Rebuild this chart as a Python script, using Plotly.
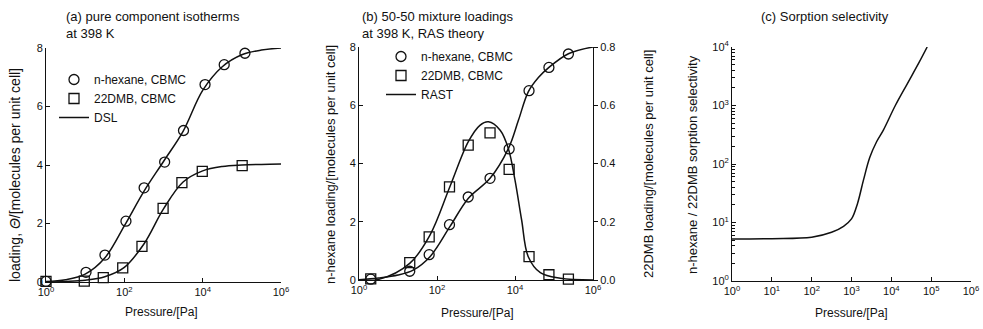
import plotly.graph_objects as go

W, H = 983, 329

# ---------- panel (a): pure component isotherms ----------
a_hex_p = [1.0, 10.5, 32, 110, 320, 1070, 3240, 11500, 35500, 120000]
a_hex_q = [0.02, 0.33, 0.92, 2.08, 3.22, 4.1, 5.18, 6.75, 7.43, 7.82]
a_dmb_p = [1.0, 9.5, 29, 91, 282, 977, 2950, 9770, 102000]
a_dmb_q = [0.02, 0.03, 0.15, 0.48, 1.22, 2.52, 3.4, 3.78, 3.98]
a_dsl_hex_logp = [0, 0.5, 1.0, 1.5, 2.0, 2.5, 3.0, 3.5, 4.0, 4.5, 5.0, 5.5, 6.0]
a_dsl_hex_q = [0.02, 0.08, 0.27, 0.82, 1.92, 3.1, 4.12, 5.15, 6.55, 7.36, 7.77, 7.93, 8.0]
a_dsl_dmb_logp = [0, 0.5, 1.0, 1.5, 2.0, 2.5, 3.0, 3.5, 4.0, 4.5, 5.0, 5.5, 6.0]
a_dsl_dmb_q = [0.0, 0.02, 0.06, 0.18, 0.5, 1.3, 2.5, 3.42, 3.8, 3.95, 4.0, 4.02, 4.03]

# ---------- panel (b): 50-50 mixture loadings ----------
b_p = [2, 20, 63, 209, 631, 2290, 7080, 22900, 74100, 234000]
b_hex_q = [0.03, 0.3, 0.87, 1.9, 2.85, 3.49, 4.5, 6.5, 7.3, 7.76]
b_dmb_q = [0.004, 0.06, 0.148, 0.32, 0.463, 0.505, 0.38, 0.08, 0.018, 0.003]
b_rast_hex_logp = [0, 0.5, 1.0, 1.39, 1.82, 2.33, 2.8, 3.36, 3.83, 4.09, 4.34, 4.6, 4.87, 5.37, 6.0]
b_rast_hex_q = [0.01, 0.07, 0.17, 0.34, 0.8, 1.83, 2.8, 3.49, 4.51, 5.49, 6.46, 6.95, 7.3, 7.77, 8.0]
b_rast_dmb_logp = [0, 0.53, 1.3, 1.82, 2.33, 2.8, 3.1, 3.32, 3.62, 3.83, 4.0, 4.17, 4.34, 4.65, 5.16, 6.0]
b_rast_dmb_q = [0.0, 0.003, 0.057, 0.154, 0.32, 0.474, 0.531, 0.543, 0.514, 0.451, 0.343, 0.206, 0.08, 0.025, 0.006, 0.0]

# ---------- panel (c): sorption selectivity ----------
c_logp = [0, 1.0, 2.0, 2.5, 2.8, 3.0, 3.15, 3.3, 3.46, 3.63, 3.8, 4.1, 4.4, 4.7, 4.9]
c_sel = [5.2, 5.3, 5.6, 6.8, 8.6, 11.5, 21, 53, 130, 240, 380, 1000, 2350, 5500, 10000]

dec_vals = [1, 10, 100, 1e3, 1e4, 1e5, 1e6]
dec_text = ["10<sup>%d</sup>" % i for i in range(7)]

FONT = "Arial, Liberation Sans, sans-serif"
BLACK = "#111111"
TICK_SIZE = 11
TITLE_SIZE = 13
LEGEND_SIZE = 12

fig = go.Figure()

marker_circle = dict(symbol="circle-open", size=10, color=BLACK, line=dict(width=1.3, color=BLACK))
marker_square = dict(symbol="square-open", size=10, color=BLACK, line=dict(width=1.3, color=BLACK))
line_style = dict(color=BLACK, width=1.5)

# panel a traces
fig.add_trace(go.Scatter(x=a_hex_p, y=a_hex_q, mode="markers", marker=marker_circle,
                         name="n-hexane, CBMC", xaxis="x", yaxis="y", legend="legend", cliponaxis=False))
fig.add_trace(go.Scatter(x=a_dmb_p, y=a_dmb_q, mode="markers", marker=marker_square,
                         name="22DMB, CBMC", xaxis="x", yaxis="y", legend="legend", cliponaxis=False))
fig.add_trace(go.Scatter(x=[10 ** v for v in a_dsl_hex_logp], y=a_dsl_hex_q, mode="lines",
                         line=dict(shape="spline", **line_style), name="DSL",
                         xaxis="x", yaxis="y", legend="legend"))
fig.add_trace(go.Scatter(x=[10 ** v for v in a_dsl_dmb_logp], y=a_dsl_dmb_q, mode="lines",
                         line=dict(shape="spline", **line_style), name="DSL", showlegend=False,
                         xaxis="x", yaxis="y"))

# panel b traces
fig.add_trace(go.Scatter(x=b_p, y=b_hex_q, mode="markers", marker=marker_circle,
                         name="n-hexane, CBMC", xaxis="x2", yaxis="y2", legend="legend2", cliponaxis=False))
fig.add_trace(go.Scatter(x=b_p, y=b_dmb_q, mode="markers", marker=marker_square,
                         name="22DMB, CBMC", xaxis="x2", yaxis="y4", legend="legend2", cliponaxis=False))
fig.add_trace(go.Scatter(x=[10 ** v for v in b_rast_hex_logp], y=b_rast_hex_q, mode="lines",
                         line=dict(shape="spline", **line_style), name="RAST",
                         xaxis="x2", yaxis="y2", legend="legend2"))
fig.add_trace(go.Scatter(x=[10 ** v for v in b_rast_dmb_logp], y=b_rast_dmb_q, mode="lines",
                         line=dict(shape="spline", **line_style), name="RAST", showlegend=False,
                         xaxis="x2", yaxis="y4"))

# panel c trace
fig.add_trace(go.Scatter(x=[10 ** v for v in c_logp], y=c_sel, mode="lines",
                         line=dict(shape="spline", **line_style), showlegend=False,
                         xaxis="x3", yaxis="y3"))

def px_x(a, b):
    return [a / W, b / W]

def px_y(top, bottom):
    return [1 - bottom / H, 1 - top / H]

axis_common = dict(showline=True, linecolor=BLACK, linewidth=1, ticks="inside", ticklen=4,
                   tickcolor=BLACK, tickwidth=1, showgrid=False, zeroline=False, automargin=False,
                   tickfont=dict(family=FONT, size=TICK_SIZE, color=BLACK))

fig.update_layout(
    width=W, height=H,
    margin=dict(l=0, r=0, t=0, b=0, pad=0, autoexpand=False),
    paper_bgcolor="white", plot_bgcolor="white",
    font=dict(family=FONT, size=TICK_SIZE, color=BLACK),
    xaxis=dict(domain=px_x(46, 281), type="log", range=[0, 6], anchor="y",
               tickvals=[1, 100, 1e4, 1e6], ticktext=[dec_text[0], dec_text[2], dec_text[4], dec_text[6]],
               **axis_common),
    yaxis=dict(domain=px_y(48, 282), range=[0, 8], anchor="x", tickvals=[0, 2, 4, 6, 8], **axis_common),
    xaxis2=dict(domain=px_x(359, 593), type="log", range=[0, 6], anchor="y2",
                tickvals=[1, 100, 1e4, 1e6], ticktext=[dec_text[0], dec_text[2], dec_text[4], dec_text[6]],
                **axis_common),
    yaxis2=dict(domain=px_y(47, 280), range=[0, 8], anchor="x2", tickvals=[0, 2, 4, 6, 8], **axis_common),
    yaxis4=dict(range=[0, 0.8], overlaying="y2", side="right", anchor="x2",
                tickvals=[0, 0.2, 0.4, 0.6, 0.8], ticktext=["0.0", "0.2", "0.4", "0.6", "0.8"],
                **{**axis_common, "ticks": "outside"}),
    xaxis3=dict(domain=px_x(732, 971), type="log", range=[0, 6], anchor="y3",
                tickvals=dec_vals, ticktext=dec_text, **axis_common),
    yaxis3=dict(domain=px_y(47, 281), type="log", range=[0, 4], anchor="x3",
                tickvals=[1, 10, 100, 1e3, 1e4], ticktext=dec_text[:5],
                minor=dict(ticks="inside", ticklen=3, tickcolor=BLACK, dtick="D1", showgrid=False),
                **axis_common),
    legend=dict(x=54 / W, y=1 - 65 / H, xanchor="left", yanchor="top", bgcolor="rgba(0,0,0,0)",
                font=dict(family=FONT, size=LEGEND_SIZE, color=BLACK), itemwidth=30, tracegroupgap=0),
    legend2=dict(x=381 / W, y=1 - 42 / H, xanchor="left", yanchor="top", bgcolor="rgba(0,0,0,0)",
                 font=dict(family=FONT, size=LEGEND_SIZE, color=BLACK), itemwidth=30, tracegroupgap=0),
)

ann = []
def text(x, y, s, size=TITLE_SIZE, **kw):
    d = dict(x=x / W, y=1 - y / H, xref="paper", yref="paper", text=s, showarrow=False,
             font=dict(family=FONT, size=size, color=BLACK))
    d.update(kw)
    ann.append(d)

# panel titles
text(64, 25, "(a) pure component isotherms<br>at 398 K", xanchor="left", yanchor="middle", align="left")
text(360, 25, "(b) 50-50 mixture loadings<br>at 398 K, RAS theory", xanchor="left", yanchor="middle", align="left")
text(825, 16, "(c) Sorption selectivity", xanchor="center", yanchor="middle")

# axis titles
text(161, 312, "Pressure/[Pa]", size=12, xanchor="center", yanchor="middle")
text(477, 313, "Pressure/[Pa]", size=12, xanchor="center", yanchor="middle")
text(851, 313, "Pressure/[Pa]", size=12, xanchor="center", yanchor="middle")
text(15, 175, "loading, <i>Θ</i>/[molecules per unit cell]", size=14, textangle=-90, xanchor="center", yanchor="middle")
text(330, 165, "n-hexane loading/[molecules per unit cell]", textangle=-90, xanchor="center", yanchor="middle")
text(648, 164, "22DMB loading/[molecules per unit cell]", textangle=-90, xanchor="center", yanchor="middle")
text(692, 165, "n-hexane / 22DMB sorption selectivity", textangle=-90, xanchor="center", yanchor="middle")

fig.update_layout(annotations=ann)

fig.write_html("out.html", config={"displayModeBar": False},
               post_script="document.body.style.margin='0';document.body.style.overflow='hidden';")
